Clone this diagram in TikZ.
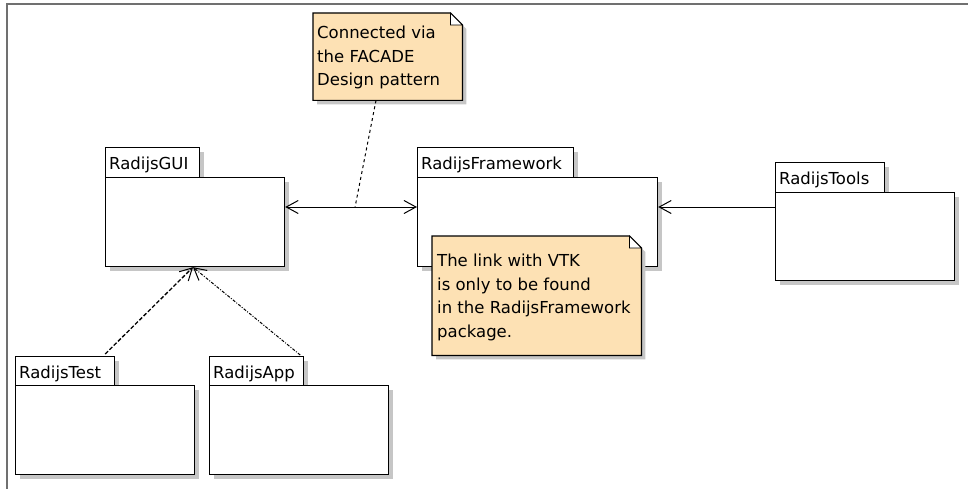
\documentclass[tikz,border=0pt]{standalone}
\usepackage{fontspec}
\setmainfont{DejaVu Sans}
\usetikzlibrary{arrows.meta,calc,shadows}
\definecolor{notefill}{HTML}{FDE1B4}
\definecolor{shadowgray}{HTML}{C6C6C6}
\definecolor{framegray}{HTML}{707070}
\tikzset{
  frameline/.style={draw=framegray, line width=1.5pt},
  pkgpart/.style={draw=black, line width=1.2pt, fill=white, inner sep=0pt, anchor=north west,
    drop shadow={shadow xshift=4pt, shadow yshift=-4pt, fill=shadowgray, opacity=1}},
  pkglabel/.style={anchor=base west, inner sep=0pt, font=\fontsize{16.5}{20}\selectfont},
  notearea/.style={inner sep=0pt, anchor=north west},
  noteshape/.style={draw=black, line width=1.2pt, fill=notefill, line join=miter},
  notefold/.style={draw=black, line width=0.8pt, fill=white},
  notetext/.style={anchor=base west, inner sep=0pt, align=left, font=\fontsize{16.5}{23.5}\selectfont},
  barb/.tip={Straight Barb[length=12pt, width=13pt, line width=1pt]},
  conn/.style={draw=black, line width=1pt},
  depend1/.style={draw=black, line width=1.3pt, dash pattern=on 4pt off 2pt},
  depend2/.style={draw=black, line width=1pt, dash pattern=on 3pt off 1.5pt on 1pt off 1.5pt},
  notelink/.style={draw=black, line width=1pt, dash pattern=on 3pt off 3pt}
}
\newcommand{\drawnote}[1]{%
  \fill[shadowgray] ([shift={(4pt,-4pt)}]#1.north west) -- ([shift={(-8pt,-4pt)}]#1.north east)
    -- ([shift={(4pt,-16pt)}]#1.north east) -- ([shift={(4pt,-4pt)}]#1.south east)
    -- ([shift={(4pt,-4pt)}]#1.south west) -- cycle;
  \path[noteshape] (#1.north west) -- ([xshift=-12pt]#1.north east) -- ([yshift=-12pt]#1.north east)
    -- (#1.south east) -- (#1.south west) -- cycle;
  \path[notefold] ([xshift=-12pt]#1.north east) -- ([xshift=-12pt,yshift=-12pt]#1.north east)
    -- ([yshift=-12pt]#1.north east) -- cycle;
}
\begin{document}
\begin{tikzpicture}[x=1pt,y=-1pt]
\useasboundingbox (0,0) rectangle (968,489);
\draw[frameline] (7,489) -- (7,4) -- (968,4);

% RadijsGUI
\node[pkgpart, minimum width=94pt, minimum height=30pt] (guitab) at (105,147) {};
\node[pkgpart, minimum width=179pt, minimum height=89pt] (gui) at (105,177) {};
\node[pkglabel] (guilbl) at (109,170) {RadijsGUI};

% RadijsFramework
\node[pkgpart, minimum width=156pt, minimum height=30pt] (fwtab) at (417,147) {};
\node[pkgpart, minimum width=240pt, minimum height=89pt] (fw) at (417,177) {};
\node[pkglabel] (fwlbl) at (421,170) {RadijsFramework};

% RadijsTools
\node[pkgpart, minimum width=109pt, minimum height=30pt] (tooltab) at (775,162) {};
\node[pkgpart, minimum width=179pt, minimum height=88pt] (tools) at (775,192) {};
\node[pkglabel] (toollbl) at (779,185) {RadijsTools};

% RadijsTest
\node[pkgpart, minimum width=99pt, minimum height=29pt] (testtab) at (15,356) {};
\node[pkgpart, minimum width=179pt, minimum height=89pt] (test) at (15,385) {};
\node[pkglabel] (testlbl) at (19,378) {RadijsTest};

% RadijsApp
\node[pkgpart, minimum width=94pt, minimum height=29pt] (apptab) at (209,356) {};
\node[pkgpart, minimum width=179pt, minimum height=89pt] (app) at (209,385) {};
\node[pkglabel] (applbl) at (213,378) {RadijsApp};

% connectors
\coordinate (guiport) at ($(gui.north east)+(0,30)$);
\coordinate (fwport) at ($(fw.north west)+(0,30)$);
\coordinate (fwportr) at ($(fw.north east)+(0,30)$);
\coordinate (toolport) at ($(tools.north west)+(0,15)$);
\coordinate (guibot) at ($(gui.south west)+(88,0)$);
\coordinate (linkmid) at ($(guiport)!0.53!(fwport)$);

\draw[conn, barb-barb] (guiport) -- (fwport);
\draw[conn, -barb] (toolport) -- (fwportr);
\draw[depend1, -barb] ($(testtab.north east)+(-10,-2)$) -- (guibot);
\draw[depend2, -barb] ($(apptab.north east)+(-4,-1)$) -- (guibot);

% Note 1
\node[notearea, minimum width=149pt, minimum height=87pt] (note1) at (313,13) {};
\drawnote{note1}
\node[notetext] (note1txt) at (317,86) {Connected via\\the FACADE\\Design pattern};
\draw[notelink] ($(note1.south west)+(63,0)$) -- (linkmid);

% Note 2
\node[notearea, minimum width=209pt, minimum height=119pt] (note2) at (432,236) {};
\drawnote{note2}
\node[notetext] (note2txt) at (437,337) {The link with VTK\\is only to be found\\in the RadijsFramework\\package.};
\end{tikzpicture}
\end{document}
